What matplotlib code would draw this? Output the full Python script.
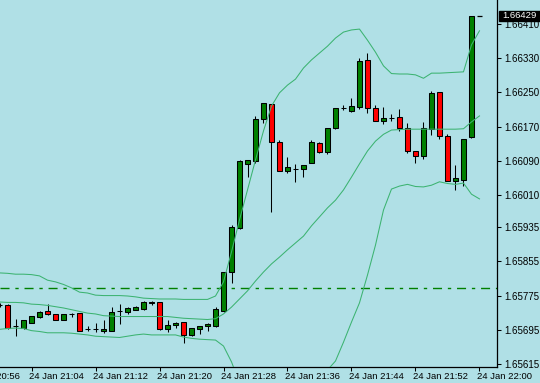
import matplotlib
matplotlib.use('Agg')
import matplotlib.pyplot as plt
from matplotlib.patches import Rectangle

plt.rcParams['font.family'] = ['Liberation Sans', 'DejaVu Sans']
plt.rcParams['lines.scale_dashes'] = False

# Velas M1, minutos desde las 21:00
minutos = list(range(60))
aperturas = [1.65753, 1.65754, 1.65703, 1.65699, 1.65712, 1.65726, 1.65739, 1.65732, 1.65718, 1.65731,
             1.65734, 1.65697, 1.65697, 1.65693, 1.65693, 1.65739, 1.65737, 1.65742, 1.65744, 1.65758,
             1.65760, 1.65698, 1.65707, 1.65713, 1.65683, 1.65698, 1.65703, 1.65705, 1.65739, 1.65831,
             1.65932, 1.66082, 1.66090, 1.66188, 1.66223, 1.66135, 1.66067, 1.66072, 1.66070, 1.66086,
             1.66132, 1.66111, 1.66167, 1.66214, 1.66207, 1.66216, 1.66326, 1.66213, 1.66184, 1.66189,
             1.66193, 1.66166, 1.66113, 1.66102, 1.66164, 1.66250, 1.66148, 1.66042, 1.66045, 1.66145]
maximos = [1.65758, 1.65755, 1.65721, 1.65719, 1.65728, 1.65739, 1.65755, 1.65733, 1.65733, 1.65734,
           1.65735, 1.65703, 1.65712, 1.65718, 1.65749, 1.65756, 1.65749, 1.65751, 1.65763, 1.65762,
           1.65761, 1.65718, 1.65713, 1.65714, 1.65700, 1.65705, 1.65710, 1.65749, 1.65830, 1.65940,
           1.66092, 1.66093, 1.66195, 1.66226, 1.66224, 1.66139, 1.66100, 1.66083, 1.66081, 1.66139,
           1.66135, 1.66167, 1.66214, 1.66221, 1.66236, 1.66331, 1.66342, 1.66221, 1.66216, 1.66199,
           1.66211, 1.66178, 1.66113, 1.66181, 1.66254, 1.66251, 1.66153, 1.66080, 1.66141, 1.66429]
minimos = [1.65748, 1.65698, 1.65680, 1.65697, 1.65710, 1.65722, 1.65730, 1.65717, 1.65717, 1.65724,
           1.65692, 1.65691, 1.65690, 1.65688, 1.65692, 1.65708, 1.65732, 1.65741, 1.65741, 1.65753,
           1.65695, 1.65690, 1.65700, 1.65665, 1.65680, 1.65685, 1.65692, 1.65702, 1.65737, 1.65805,
           1.65931, 1.66053, 1.66084, 1.66179, 1.65971, 1.66066, 1.66062, 1.66041, 1.66053, 1.66085,
           1.66108, 1.66107, 1.66164, 1.66209, 1.66203, 1.66211, 1.66202, 1.66183, 1.66176, 1.66184,
           1.66160, 1.66109, 1.66086, 1.66094, 1.66151, 1.66140, 1.66043, 1.66022, 1.66032, 1.66144]
cierres = [1.65753, 1.65699, 1.65703, 1.65718, 1.65727, 1.65737, 1.65732, 1.65718, 1.65732, 1.65733,
           1.65693, 1.65697, 1.65696, 1.65698, 1.65736, 1.65739, 1.65746, 1.65748, 1.65760, 1.65761,
           1.65698, 1.65706, 1.65712, 1.65683, 1.65699, 1.65704, 1.65708, 1.65743, 1.65829, 1.65936,
           1.66090, 1.66092, 1.66187, 1.66225, 1.66135, 1.66067, 1.66076, 1.66072, 1.66080, 1.66134,
           1.66111, 1.66166, 1.66213, 1.66214, 1.66218, 1.66323, 1.66214, 1.66184, 1.66190, 1.66189,
           1.66166, 1.66114, 1.66102, 1.66166, 1.66249, 1.66149, 1.66044, 1.66050, 1.66140, 1.66429]

# Bandas de Bollinger
bb_minutos = list(range(61))
bb_superior = [1.65828, 1.65827, 1.65825, 1.65825, 1.65824, 1.65821, 1.65811, 1.65807, 1.65801, 1.65793,
               1.65783, 1.65781, 1.65776, 1.65775, 1.65775, 1.65775, 1.65774, 1.65772, 1.65769, 1.65768,
               1.65767, 1.65767, 1.65767, 1.65766, 1.65766, 1.65766, 1.65766, 1.65774, 1.65807, 1.65877,
               1.65952, 1.66022, 1.66092, 1.66160, 1.66218, 1.66249, 1.66267, 1.66281, 1.66307, 1.66326,
               1.66342, 1.66358, 1.66377, 1.66391, 1.66396, 1.66398, 1.66372, 1.66344, 1.66312, 1.66294,
               1.66293, 1.66293, 1.66291, 1.66283, 1.66295, 1.66295, 1.66296, 1.66297, 1.66298, 1.66361,
               1.66394]
bb_media = [1.65760, 1.65759, 1.65759, 1.65758, 1.65755, 1.65754, 1.65752, 1.65749, 1.65746, 1.65742,
            1.65738, 1.65734, 1.65732, 1.65728, 1.65727, 1.65726, 1.65726, 1.65726, 1.65726, 1.65726,
            1.65726, 1.65726, 1.65724, 1.65722, 1.65721, 1.65720, 1.65719, 1.65721, 1.65732, 1.65748,
            1.65767, 1.65786, 1.65809, 1.65830, 1.65849, 1.65865, 1.65882, 1.65898, 1.65914, 1.65938,
            1.65959, 1.65980, 1.65998, 1.66022, 1.66052, 1.66083, 1.66113, 1.66136, 1.66152, 1.66162,
            1.66163, 1.66164, 1.66164, 1.66164, 1.66164, 1.66164, 1.66164, 1.66164, 1.66165, 1.66181,
            1.66195]
bb_inferior = [1.65696, 1.65698, 1.65699, 1.65698, 1.65693, 1.65691, 1.65688, 1.65688, 1.65688, 1.65687,
               1.65685, 1.65683, 1.65680, 1.65679, 1.65678, 1.65677, 1.65680, 1.65683, 1.65685, 1.65683,
               1.65683, 1.65683, 1.65683, 1.65678, 1.65675, 1.65673, 1.65672, 1.65671, 1.65657, 1.65620,
               1.65571, 1.65538, 1.65521, 1.65500, 1.65475, 1.65482, 1.65493, 1.65514, 1.65521, 1.65550,
               1.65575, 1.65601, 1.65622, 1.65666, 1.65713, 1.65758, 1.65823, 1.65893, 1.65975, 1.66024,
               1.66031, 1.66035, 1.66030, 1.66029, 1.66033, 1.66041, 1.66037, 1.66035, 1.66038, 1.66012,
               1.66001]

nivel = 1.65792
ultimo = 1.66429

precios_eje = [1.65615, 1.65695, 1.65775, 1.65855, 1.65935, 1.66010,
               1.66090, 1.66170, 1.66250, 1.66330, 1.66410]
horas_eje = [-4, 4, 12, 20, 28, 36, 44, 52, 60]
etiquetas_horas = ['24 Jan 20:56', '24 Jan 21:04', '24 Jan 21:12', '24 Jan 21:20', '24 Jan 21:28',
                   '24 Jan 21:36', '24 Jan 21:44', '24 Jan 21:52', '24 Jan 22:00']

FONDO = '#B0E0E6'
VERDE = '#008000'
ROJO = '#FF0000'
BANDA = '#3CB371'

fig = plt.figure(figsize=(5.4, 3.83), dpi=100, facecolor=FONDO)
ax = fig.add_axes([0, 16 / 383, 497 / 540, 367 / 383])
ax.set_facecolor(FONDO)
ax.set_xlim(0.06, 62.19)
ax.set_ylim(1.65608, 1.66466)

# linea horizontal punto-raya
ax.axhline(nivel, color=VERDE, lw=1.0, dashes=(6.5, 4.2, 2.4, 4.2), zorder=1)

# velas
for m, o, h, l, c in zip(minutos, aperturas, maximos, minimos, cierres):
    ax.vlines(m, l, h, color='black', lw=0.75, zorder=2)
    color = VERDE if c >= o else ROJO
    ax.bar(m, abs(c - o), bottom=min(o, c), width=0.6, color=color,
           edgecolor='black', linewidth=0.75, zorder=3)

# bandas
for serie in (bb_superior, bb_media, bb_inferior):
    ax.plot(bb_minutos, serie, color=BANDA, lw=0.75, zorder=4)

# marca del ultimo precio
ax.hlines(ultimo, minutos[-1] + 0.7, minutos[-1] + 1.3, color='black', lw=0.9, zorder=4)

for lado in ('left', 'top'):
    ax.spines[lado].set_visible(False)
for lado in ('right', 'bottom'):
    ax.spines[lado].set_color('black')
    ax.spines[lado].set_linewidth(0.9)

ax.yaxis.tick_right()
ax.set_yticks(precios_eje)
ax.set_yticklabels(['%.5f' % p for p in precios_eje])
ax.tick_params(axis='y', direction='out', length=3, width=0.75, labelsize=7, pad=2, colors='black')

ax.set_xticks([t for t in horas_eje if t > 0])
ax.set_xticklabels([])
ax.tick_params(axis='x', direction='out', length=3, width=0.75)

for t, txt in zip(horas_eje, etiquetas_horas):
    ax.text(t - 0.28, -0.027, txt, transform=ax.get_xaxis_transform(), ha='left', va='center',
            fontsize=6.8, color='black', clip_on=False)

# etiqueta del precio actual
fig.add_artist(Rectangle((499 / 540, 1 - 21 / 383), 41 / 540, 10.5 / 383,
                         transform=fig.transFigure, color='black', zorder=10))
fig.text(502.5 / 540, 1 - 15.7 / 383, '%.5f' % ultimo, color='white', fontsize=6.8,
         ha='left', va='center', zorder=11)

fig.savefig('out.png', dpi=100, facecolor=FONDO)
